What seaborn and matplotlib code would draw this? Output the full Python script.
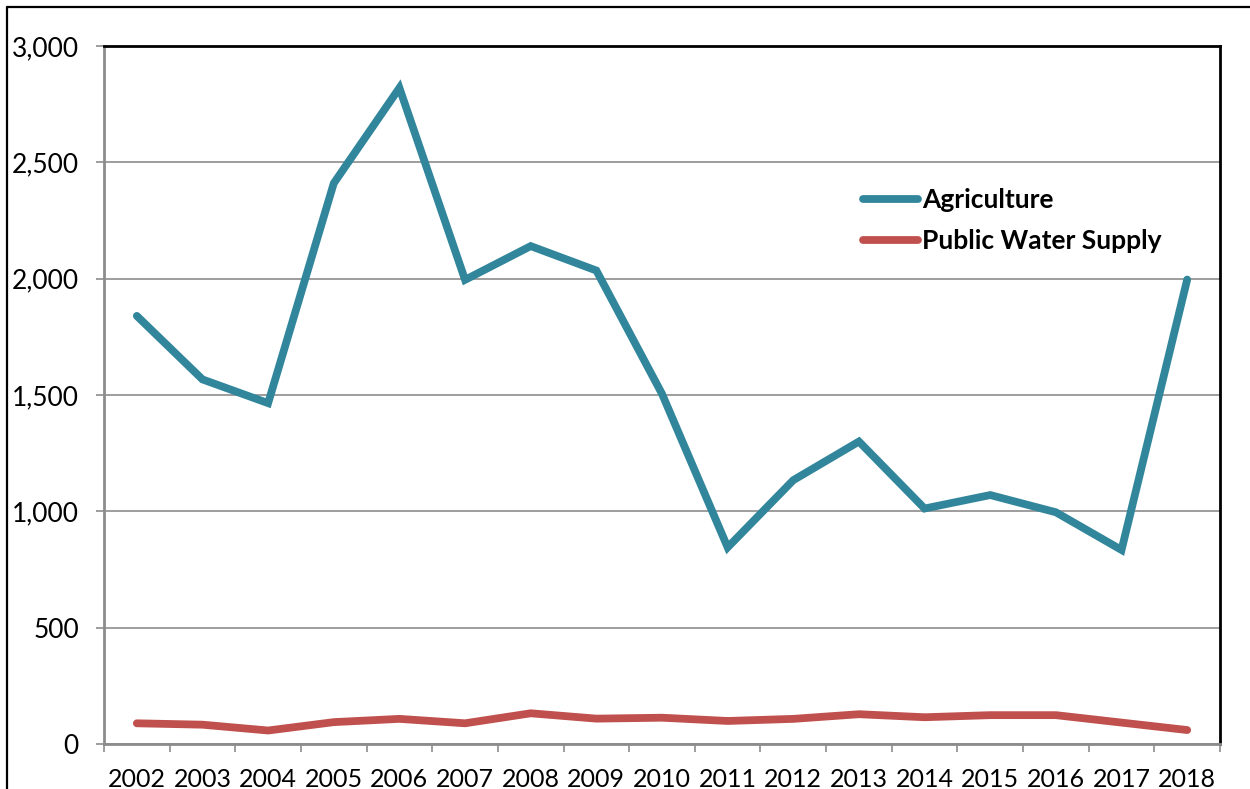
import matplotlib
matplotlib.use("Agg")
import matplotlib.pyplot as plt
from matplotlib.lines import Line2D
from matplotlib.ticker import FuncFormatter, FixedLocator
import numpy as np
import pandas as pd
import seaborn as sns

# Annual water use by sector
years = list(range(2002, 2019))
agriculture = [1840, 1567, 1465, 2410, 2820, 1995, 2140, 2035, 1505, 845,
               1134, 1300, 1012, 1070, 996, 834, 1996]
public_water = [89, 83, 58, 94, 108, 89, 132, 109, 113, 99,
                108, 128, 115, 124, 124, 92, 60]
series_names = ["Agriculture", "Public Water Supply"]
series_colors = ["#31869B", "#C0504D"]
y_ticks = [0, 500, 1000, 1500, 2000, 2500, 3000]

df = pd.DataFrame({
    "year": years * 2,
    "value": agriculture + public_water,
    "series": [series_names[0]] * len(years) + [series_names[1]] * len(years),
})

sns.set_theme(style="white")
plt.rcParams["font.family"] = ["Lato", "DejaVu Sans"]
plt.rcParams["text.color"] = "black"

fig = plt.figure(figsize=(12.5, 7.89), dpi=100)
ax = fig.add_axes([104 / 1250, 1 - 744 / 789, (1220 - 104) / 1250, (744 - 46) / 789])

sns.lineplot(data=df, x="year", y="value", hue="series", hue_order=series_names,
             palette=series_colors, linewidth=5.6, ax=ax, legend=False,
             solid_capstyle="round", solid_joinstyle="miter")

ax.set_xlim(years[0] - 0.5, years[-1] + 0.5)
ax.set_ylim(0, 3000)
ax.set_xlabel("")
ax.set_ylabel("")

# y axis: gridlines and thousands formatting
ax.yaxis.set_major_locator(FixedLocator(y_ticks))
ax.yaxis.set_major_formatter(FuncFormatter(lambda v, p: f"{int(v):,}"))
ax.grid(axis="y", color="#8C8C8C", linewidth=1.2)
ax.set_axisbelow(True)
ax.tick_params(axis="y", which="major", left=True, length=6, width=1.2,
               color="#8C8C8C", labelsize=19, pad=12, labelcolor="black")

# x axis: labels centred on categories, tick marks between them
ax.set_xticks(years)
ax.set_xticklabels([str(y) for y in years])
ax.set_xticks(np.arange(years[0] - 0.5, years[-1] + 1.0, 1.0), minor=True)
ax.tick_params(axis="x", which="major", length=0, labelsize=18, pad=17,
               labelcolor="black")
ax.tick_params(axis="x", which="minor", bottom=True, length=6, width=1.2,
               color="#8C8C8C")

for side in ["left", "bottom"]:
    ax.spines[side].set_color("#8C8C8C")
    ax.spines[side].set_linewidth(2.0)
for side in ["top", "right"]:
    ax.spines[side].set_color("black")
    ax.spines[side].set_linewidth(2.0)
    ax.spines[side].set_visible(True)

handles = [Line2D([0], [0], color=c, linewidth=5.6, solid_capstyle="round")
           for c in series_colors]
leg = ax.legend(handles, series_names, loc="upper left",
                bbox_to_anchor=(863 / 1250, 1 - 188 / 789),
                bbox_transform=fig.transFigure, frameon=False,
                prop={"family": "Lato", "weight": "bold", "size": 19},
                labelcolor="black",
                handlelength=2.1, handletextpad=0.15, labelspacing=0.65,
                borderpad=0, borderaxespad=0)

# outer chart frame
fig.add_artist(Line2D([7 / 1250, 1.0], [1 - 7 / 789, 1 - 7 / 789],
                      transform=fig.transFigure, color="black", linewidth=1.6))
fig.add_artist(Line2D([7 / 1250, 7 / 1250], [0.0, 1 - 7 / 789],
                      transform=fig.transFigure, color="black", linewidth=1.6))

fig.savefig("out.png", dpi=100, facecolor="white")
